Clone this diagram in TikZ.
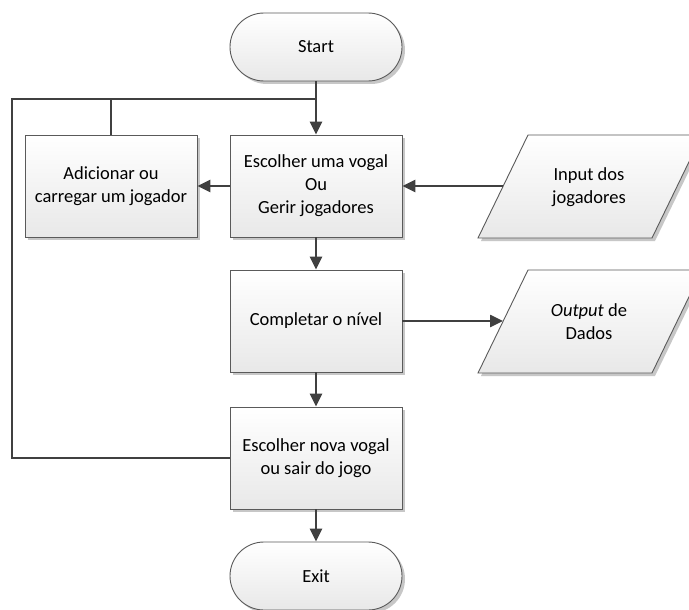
\documentclass[tikz,border=0pt]{standalone}
\usepackage{fontspec}
\setmainfont{Carlito}
\usetikzlibrary{arrows.meta,shadows}
\definecolor{edge}{HTML}{5A5A5A}
\definecolor{wire}{HTML}{404040}
\tikzset{
  shapefill/.style={draw=edge, line width=0.9pt, top color=white, bottom color=black!9,
    drop shadow={shadow xshift=3pt, shadow yshift=-3pt, fill=black!22, opacity=1}},
  txt/.style={align=center, font=\fontsize{18.5}{23}\selectfont, inner sep=0pt},
  process/.style={shapefill, txt, rectangle, minimum width=172pt, minimum height=102pt},
  terminal/.style={shapefill, txt, rectangle, rounded corners=34pt, minimum width=172pt, minimum height=68pt},
  wire/.style={draw=wire, line width=2.5pt},
  flow/.style={wire, -{Triangle[length=13pt,width=12pt]}},
}
\begin{document}
\begin{tikzpicture}[x=1pt,y=-1pt]
  \clip (0,0) rectangle (689,610);
  \fill[white] (0,0) rectangle (689,610);

  % main column
  \node[terminal] (start)    at (316,47)  {Start};
  \node[process]  (choose)   at (316,186) {Escolher uma vogal\\Ou\\Gerir jogadores};
  \node[process]  (add)      at (111,186) {Adicionar ou\\carregar um jogador};
  \node[process]  (complete) at (316,321) {Completar o nível};
  \node[process]  (newv)     at (316,458) {Escolher nova vogal\\ou sair do jogo};
  \node[terminal] (exit)     at (316,576) {Exit};

  % data parallelograms
  \path[shapefill] (528,135) -- (702,135) -- (652,238) -- (478,238) -- cycle;
  \node[txt] (input) at (589,187) {Input dos\\jogadores};
  \coordinate (inL) at (503,186);

  \path[shapefill] (528,270) -- (702,270) -- (652,373) -- (478,373) -- cycle;
  \node[txt] (output) at (589,322) {\textit{Output} de\\Dados};
  \coordinate (outL) at (503,321);

  % return loop
  \coordinate (loopTL) at (12,99);
  \draw[wire] (newv.west) -| (loopTL) -- (loopTL -| start.south);
  \draw[wire] (add.north) -- (add.north |- loopTL);

  % connectors
  \draw[flow] (start.south) -- (choose.north);
  \draw[flow] (choose.west) -- (add.east);
  \draw[flow] (inL) -- (choose.east);
  \draw[flow] (choose.south) -- (complete.north);
  \draw[flow] (complete.east) -- (outL);
  \draw[flow] (complete.south) -- (newv.north);
  \draw[flow] (newv.south) -- (exit.north);
\end{tikzpicture}
\end{document}
